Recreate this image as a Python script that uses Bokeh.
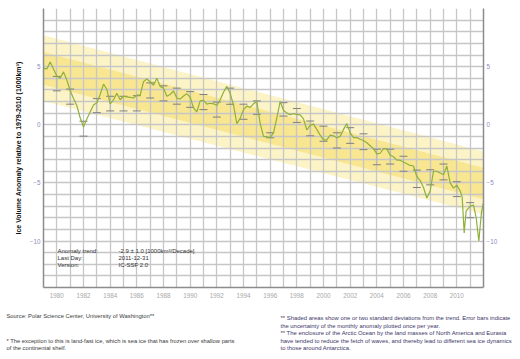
from bokeh.plotting import figure
from bokeh.layouts import column
from bokeh.models import Range1d, LinearAxis, FixedTicker, Label, Whisker, ColumnDataSource, TeeHead
from bokeh.embed import file_html
from bokeh.resources import INLINE
from bokeh.core.properties import value

# ---- data (1000 km^3 anomaly) ----
years = [1979.0 + 0.25 * k for k in range(126)] + [2010.40, 2010.55, 2010.70, 2011.0, 2011.25, 2011.45, 2011.65, 2011.85, 2012.0]
anomaly = [
    4.85, 4.8, 5.4, 4.8, 4.2, 4.0, 4.55, 3.85, 2.95, 2.25, 1.65, 0.6,
    -0.2, 0.5, 1.1, 1.7, 1.9, 2.6, 3.5, 3.05, 1.8, 2.15, 2.7, 2.15,
    2.45, 2.4, 2.35, 2.3, 2.55, 2.55, 3.7, 3.95, 3.7, 3.4, 4.0, 3.3,
    3.15, 2.45, 2.6, 2.9, 2.3, 2.2, 2.47, 2.66, 2.37, 1.45, 1.1, 2.05,
    2.1, 1.77, 1.85, 1.8, 1.65, 2.15, 2.8, 3.3, 2.7, 1.7, 0.1, 0.55,
    1.3, 1.6, 1.5, 1.8, 2.0, 0.1, -1.0, -1.05, -1.1, -0.7, 0.6, 2.0,
    1.25, 1.0, 0.87, 0.95, 0.9, 0.85, 0.5, -0.45, -0.05, 0.05, -0.4, -0.9,
    -1.3, -1.3, -0.9, -0.95, -1.12, -1.0, -0.4, 0.1, -0.7, -1.1, -1.1, -1.25,
    -1.35, -1.55, -1.8, -2.05, -2.5, -2.45, -2.05, -2.1, -2.6, -2.75, -3.05, -3.05,
    -3.2, -3.35, -3.5, -3.55, -4.45, -4.8, -5.4, -6.3, -5.7, -4.0, -4.0, -4.15,
    -4.3, -3.55, -5.0, -5.45, -5.2, -5.7,
    -6.2, -9.3, -7.4, -7.0, -6.9, -8.0, -10.0, -7.5, -6.7,
]

# trend bands (one / two standard deviations) at the ends of the period
band_years = [1979, 2012]
outer_hi = [7.7, -2.3]
inner_hi = [6.25, -3.7]
inner_lo = [3.45, -6.4]
outer_lo = [2.05, -7.7]

# yearly error bars
eb_years = list(range(1980, 2012))
eb_lo = [2.92, 1.77, -0.98, 1.04, 1.19, 1.19, 1.19, 2.3, 2.05, 1.77, 1.5, 1.3,
         0.66, 1.76, 0.47, 0.9, -1.12, 0.75, 0.2, -0.95, -1.42, -2.0, -1.6, -2.14,
         -3.44, -3.38, -4.0, -5.4, -5.17, -4.74, -6.18, -8.0]
eb_hi = [4.16, 3.07, 0.3, 2.25, 2.45, 2.45, 2.5, 3.6, 3.35, 3.15, 2.85, 2.6,
         1.95, 3.15, 1.77, 2.05, -0.69, 1.9, 1.4, 0.32, -0.12, -0.69, -0.25, -0.78,
         -2.1, -2.1, -2.71, -3.9, -3.87, -3.38, -4.9, -6.7]

x_ticks = list(range(1980, 2011, 2))
x_grid = list(range(1979, 2013))
y_ticks = [-10, -5, 0, 5]
y_grid = list(range(-14, 11))

info_left = ["Anomaly trend:", "Last Day:", "Version:"]
info_right = ["-2.9 \u00b1 1.0 [1000km\u00b3/Decade]", "2011-12-31", "IC-SSF 2.0"]

notes_left = [
    "Source: Polar Science Center, University of Washington**",
    "* The exception to this is land-fast ice, which is sea ice that has frozen over shallow parts",
    "of the continental shelf.",
]
notes_right = [
    "** Shaded areas show one or two standard deviations from the trend. Error bars indicate",
    "the uncertainty of the monthly anomaly plotted once per year.",
    "** The enclosure of the Arctic Ocean by the land masses of North America and Eurasia",
    "have tended to reduce the fetch of waves, and thereby lead to different sea ice dynamics",
    "to those around Antarctica.",
]

FONT = "Liberation Sans"

p = figure(width=520, height=305, output_backend="svg", toolbar_location=None,
           x_range=Range1d(1979, 2012), y_range=Range1d(-14, 10),
           min_border_left=43, min_border_right=37, min_border_top=8, min_border_bottom=18,
           background_fill_color="white", border_fill_color="white", frame_align=False)
p.outline_line_color = None

# bands behind the grid
p.varea(x=band_years, y1=outer_lo, y2=outer_hi, fill_color="#fcf4c6", level="image")
p.varea(x=band_years, y1=inner_lo, y2=inner_hi, fill_color="#f8e690", level="image")

# grid
p.xgrid.ticker = FixedTicker(ticks=x_grid)
p.ygrid.ticker = FixedTicker(ticks=y_grid)
for g in (p.xgrid, p.ygrid):
    g.grid_line_color = "#c6c6c6"
    g.grid_line_width = 1.3

# error bars
eb = ColumnDataSource(dict(x=eb_years, lo=eb_lo, hi=eb_hi))
w = Whisker(source=eb, base="x", lower="lo", upper="hi", dimension="height",
            line_color="#b4b4b4", line_width=1, level="underlay",
            upper_head=TeeHead(size=8, line_color="#808080", line_width=1),
            lower_head=TeeHead(size=8, line_color="#808080", line_width=1))
p.add_layout(w)

# anomaly curve
p.line(years, anomaly, line_color="#8fb13a", line_width=1.2)

# axes
p.xaxis.ticker = FixedTicker(ticks=x_ticks)
p.yaxis.ticker = FixedTicker(ticks=y_ticks)
for ax in (p.xaxis, p.yaxis):
    ax.major_tick_in = 0
    ax.major_tick_out = 0
    ax.minor_tick_in = 0
    ax.minor_tick_out = 0
    ax.axis_line_color = "#8c8c8c"
    ax.axis_line_width = 1.5
    ax.major_label_text_font = FONT
    ax.major_label_text_font_size = "6.3px"
p.xaxis.major_label_text_color = "#a8a8a8"
p.xaxis.major_label_standoff = 5
p.yaxis.major_label_text_color = "#8c8cc0"
p.yaxis.major_label_standoff = 3
p.yaxis.axis_label = "Ice Volume Anomaly relative to 1979-2010 (1000km\u00b3)"
p.yaxis.axis_label_text_font = FONT
p.yaxis.axis_label_text_font_style = "bold"
p.yaxis.axis_label_text_font_size = "7px"
p.yaxis.axis_label_text_color = "#111111"
p.yaxis.axis_label_standoff = 5

ra = LinearAxis(ticker=FixedTicker(ticks=y_ticks), major_tick_in=0, major_tick_out=0,
                minor_tick_in=0, minor_tick_out=0, axis_line_color="#8c8c8c", axis_line_width=1.5,
                major_label_text_color="#8c8cc0", major_label_text_font=FONT,
                major_label_text_font_size="6.3px", major_label_standoff=3)
p.add_layout(ra, "right")

# info block inside the plot (screen offsets from the frame's bottom-left)
for a, b, yy in zip(info_left, info_right, [37, 30, 23]):
    for t, xx in ((a, 14), (b, 75)):
        p.add_layout(Label(x=xx, y=yy, x_units="screen", y_units="screen", text=t,
                           text_font=FONT, text_font_size="6px", text_color="#333333",
                           text_baseline="middle"))

# footnotes strip (pixel coordinates of the page)
q = figure(width=520, height=54, output_backend="svg", toolbar_location=None,
           x_range=Range1d(0, 520), y_range=Range1d(359, 305),
           x_axis_type=None, y_axis_type=None, frame_align=False,
           min_border_left=0, min_border_right=0, min_border_top=0, min_border_bottom=0,
           background_fill_color="white", border_fill_color="white")
q.outline_line_color = None
q.grid.visible = False
q.text(x=[6, 6, 6], y=[315, 340, 347], text=notes_left,
       text_font=value(FONT), text_font_size="5.8px", text_color="#3a3a3a",
       text_baseline="middle")
q.text(x=[280] * 5, y=[317.7, 325, 332.7, 340, 347.3], text=notes_right,
       text_font=value(FONT), text_font_size="5.9px", text_color="#3c3668",
       text_baseline="middle")

open("out.html", "w").write(file_html(column(p, q, spacing=0), INLINE))
